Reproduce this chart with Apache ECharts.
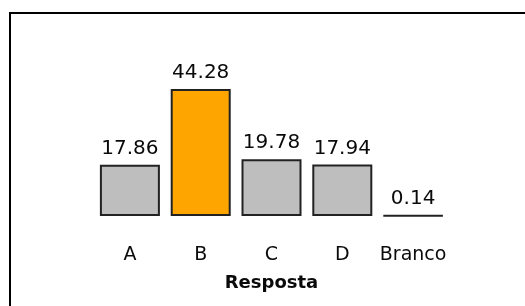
<!DOCTYPE html>
<html>
<head>
<meta charset="utf-8">
<script src="https://cdn.jsdelivr.net/npm/echarts@6/dist/echarts.min.js"></script>
<style>
html,body{margin:0;padding:0;background:#fff;}
#chart{width:525px;height:306px;}
</style>
</head>
<body>
<div id="chart"></div>
<script>
const categories = ['A', 'B', 'C', 'D', 'Branco'];
const values = [17.86, 44.28, 19.78, 17.94, 0.14];
const highlightIndex = 1;
const axisTitle = 'Resposta';

const chart = echarts.init(document.getElementById('chart'), null, {renderer: 'canvas'});
const font = 'DejaVu Sans';
chart.setOption({
  animation: false,
  backgroundColor: '#ffffff',
  graphic: [
    {type: 'polyline', shape: {points: [[10, 320], [10, 13], [540, 13]]},
     style: {stroke: '#000', lineWidth: 2, fill: null}, silent: true}
  ],
  grid: {left: 94.5, right: 76.5, top: 72.5, bottom: 90, containLabel: false},
  xAxis: {
    type: 'category',
    data: categories,
    axisLine: {show: false},
    axisTick: {show: false},
    axisLabel: {color: '#0a0a0a', fontFamily: font, fontSize: 19, margin: 30, interval: 0},
    name: axisTitle,
    nameLocation: 'middle',
    nameGap: 58,
    nameTextStyle: {color: '#0a0a0a', fontFamily: font, fontSize: 18, fontWeight: 'bold'}
  },
  yAxis: {
    type: 'value', min: 0, max: 50, show: false
  },
  series: [{
    type: 'bar',
    barWidth: 60,
    data: values.map((v, i) => ({
      value: v,
      itemStyle: {color: i === highlightIndex ? '#ffa500' : '#bebebe'}
    })),
    itemStyle: {borderColor: '#222', borderWidth: 2},
    label: {
      show: true, position: 'top', distance: 6,
      color: '#0a0a0a', fontFamily: font, fontSize: 20,
      formatter: p => p.value.toFixed(2)
    }
  }]
});
</script>
</body>
</html>
